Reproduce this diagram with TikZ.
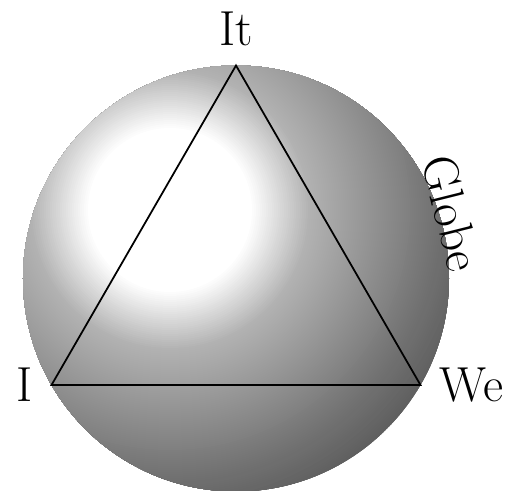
\documentclass[tikz,border=0pt]{standalone}
\usepackage{xcolor}
\usepackage{tikz}
\usetikzlibrary{positioning}
\tikzset{
  globe/.style={circle, minimum size=8.52cm, inner sep=0pt, outer sep=0pt},
  word/.style={font=\fontsize{28}{34}\selectfont, text=black, inner sep=0.38cm},
  edge/.style={line width=1pt, line join=miter}
}

\begin{document}
\begin{tikzpicture}
  \useasboundingbox (-4.72,-4.25) rectangle (5.50,5.57);
  \node[globe] (ball) at (0,0) {};
  \coordinate (spot) at (-1.32,1.37);
  \begin{scope}
    \clip (ball.center) circle (4.26);
    \foreach \r in {310,308,...,82} {
      \pgfmathsetmacro\dark{\r<140 ? 30*(\r-82)/58 : (\r<270 ? 30+26*(\r-140)/130 : 56+7*(\r-270)/40)}
      \fill[black!\dark] (spot) circle (\r*0.02);
    }
    \fill[white] (spot) circle (1.64);
  \end{scope}
  \coordinate (top) at (ball.90);
  \coordinate (left) at (ball.210);
  \coordinate (right) at (ball.330);
  \node[word, above] (it) at (top) {It};
  \node[word, left] (i) at (left) {I};
  \node[word, right] (we) at (right) {We};
  \node[word, anchor=base, rotate=-76] (name) at (17:4.17) {Globe};
  \draw[edge] (top) -- (left) -- (right) -- cycle;
\end{tikzpicture}
\end{document}
